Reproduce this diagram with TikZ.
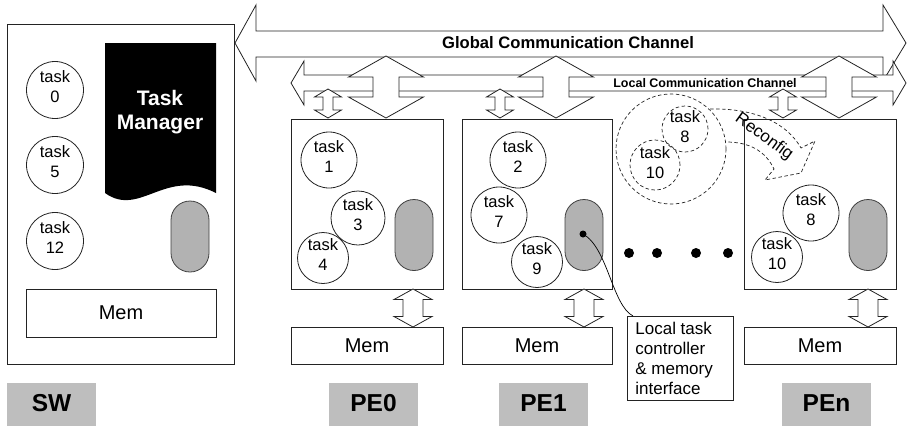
\documentclass[tikz,border=0pt]{standalone}
\usepackage{fontspec}
\setmainfont{Liberation Sans}
\usetikzlibrary{fit,calc}
\definecolor{labelgray}{RGB}{190,190,190}
\definecolor{pillgray}{RGB}{178,178,178}
\definecolor{linecol}{RGB}{35,35,35}
% vertical double block arrow: x, ytop, ybot, head half width, shaft half width, head length
\newcommand\vdarr[6]{\draw[blockarrow] (#1,#2) -- (#1+#4,#2+#6) -- (#1+#5,#2+#6) -- (#1+#5,#3-#6) -- (#1+#4,#3-#6) -- (#1,#3) -- (#1-#4,#3-#6) -- (#1-#5,#3-#6) -- (#1-#5,#2+#6) -- (#1-#4,#2+#6) -- cycle;}
% task circle: name, position, number, diameter, extra style
\newcommand\tsk[5]{\node[taskc, minimum size=#4pt, #5] (#1) at #2 {};
  \node[tasktxt] at ($(#1.center)+(0,-3)$) {task\\#3};}
\begin{document}
\begin{tikzpicture}[x=1pt,y=-1pt,
  line width=0.8pt,
  box/.style={draw=linecol, line width=0.8pt, inner sep=0pt},
  blockarrow/.style={draw=linecol, fill=white, line width=0.8pt, line join=miter},
  taskc/.style={circle, draw=linecol, fill=white, inner sep=0pt},
  tasktxt/.style={align=center, font=\fontsize{16.5}{20}\selectfont, inner sep=0pt},
  pill/.style={draw=black!75, fill=pillgray, rounded corners=19pt, minimum width=38pt, minimum height=71pt, inner sep=0pt},
  memtxt/.style={font=\fontsize{20}{24}\selectfont, inner sep=0pt},
  labbox/.style={fill=labelgray, inner sep=0pt},
  labtxt/.style={font=\bfseries\fontsize{24.5}{28}\selectfont, inner sep=0pt},
  dashedline/.style={draw=linecol, line width=0.7pt, dash pattern=on 3.5pt off 2.5pt}]
\useasboundingbox (0,0) rectangle (907,426);

% ---------- SW ----------
\node[box, fit={(7,24) (234,364)}] (sw) {};
\fill[black] (105,43) -- (216,43) -- (216,193) .. controls (165,167) and (140,218) .. (105,193) -- cycle;
\node[text=white, align=center, font=\bfseries\fontsize{21}{24}\selectfont] (tm) at (160,112) {Task\\Manager};
\tsk{t0}{(55,90)}{0}{57}{}
\tsk{t5}{(55,165)}{5}{57}{}
\tsk{t12}{(55,241)}{12}{57}{}
\node[pill] (swpill) at (190,236.5) {};
\node[box, fit={(26,289) (216,337)}] (swmem) {};
\node[memtxt] at (swmem.center) {Mem};
\node[labbox, fit={(7,383) (96,426)}] (swlab) {};
\node[labtxt] at ($(swlab.center)+(0,-1.5)$) {SW};

% ---------- channels ----------
\draw[blockarrow] (235,43) -- (256,5) -- (256,31) -- (883,31) -- (883,5) -- (906,43) -- (883,81) -- (883,57) -- (256,57) -- (256,81) -- cycle;
\draw[blockarrow] (291,83) -- (304,61) -- (304,75) -- (893,75) -- (893,61) -- (906,83) -- (893,105) -- (893,91) -- (304,91) -- (304,105) -- cycle;

% big arrows global <-> PE
\vdarr{386}{56}{118}{37.5}{13}{21}
\vdarr{556}{56}{118}{37.5}{13}{21}
\vdarr{839}{56}{118}{37.5}{13}{21}
% small arrows local <-> PE
\vdarr{328}{89}{118}{13.5}{5}{8}
\vdarr{500}{89}{118}{13.5}{5}{8}
\vdarr{783}{89}{118}{13.5}{5}{8}

\node[font=\bfseries\fontsize{16.6}{19}\selectfont] (gcc) at (568,43) {Global Communication Channel};
\node[font=\bfseries\fontsize{12.5}{15}\selectfont] (lcc) at (705,83) {Local Communication Channel};

% ---------- PE boxes ----------
\node[box, fit={(291,119) (443,289)}] (pe0) {};
\node[box, fit={(462,119) (612,289)}] (pe1) {};
\node[box, fit={(744,119) (896,289)}] (pen) {};

\tsk{t1}{(329,160)}{1}{56}{}
\tsk{t3}{(358,218)}{3}{54}{}
\tsk{t4}{(323,258)}{4}{51}{}
\node[pill] (pill0) at (414,235) {};

\tsk{t2}{(518,160)}{2}{56}{}
\tsk{t7}{(499,215)}{7}{56}{}
\tsk{t9}{(537,262)}{9}{51}{}
\node[pill] (pill1) at (584,235) {};

\tsk{t8n}{(811,213)}{8}{56}{}
\tsk{t10n}{(777,257)}{10}{51}{}
\node[pill] (pilln) at (868,235) {};

% PE <-> Mem arrows
\vdarr{413}{289}{327}{19}{10}{10.5}
\vdarr{584}{289}{327}{19}{10}{10.5}
\vdarr{868}{289}{327}{19}{10}{10.5}

\node[box, fit={(291,327) (443,364)}] (mem0) {};
\node[memtxt] at (mem0.center) {Mem};
\node[box, fit={(462,327) (612,364)}] (mem1) {};
\node[memtxt] at (mem1.center) {Mem};
\node[box, fit={(744,327) (896,364)}] (memn) {};
\node[memtxt] at (memn.center) {Mem};

\node[labbox, fit={(329,383) (418,426)}] (lab0) {};
\node[labtxt] at ($(lab0.center)+(0,-1.5)$) {PE0};
\node[labbox, fit={(499,383) (588,426)}] (lab1) {};
\node[labtxt] at ($(lab1.center)+(0,-1.5)$) {PE1};
\node[labbox, fit={(782,383) (871,426)}] (labn) {};
\node[labtxt] at ($(labn.center)+(0,-1.5)$) {PEn};

% ---------- dots ----------
\foreach \x/\n in {629/d1,657/d2,696/d3,728/d4}
  \fill (\x,253) circle (5) coordinate (\n);

% ---------- callout ----------
\node[box, fit={(627,316) (733,400)}] (callout) {};
\node[anchor=west, align=left, inner sep=0pt, font=\fontsize{17}{20}\selectfont] (calltext) at (635,358) {Local task\\controller\\\& memory\\interface};
\fill (583,234) circle (3.5) coordinate (ctrl);
\coordinate (callin) at (633,316);
\draw[line width=0.7pt] (ctrl) .. controls (608,248) and (612,305) .. (callin);

% ---------- reconfiguration ----------
\node[circle, dashedline, minimum size=110pt, inner sep=0pt] (grp) at (671,149) {};
\node[circle, dashedline, minimum size=46pt, inner sep=0pt] (g8) at (685,129) {};
\node[tasktxt] at ($(g8.center)+(0,-2)$) {task\\8};
\node[circle, dashedline, minimum size=50pt, inner sep=0pt] (g10) at (655,165) {};
\node[tasktxt] at ($(g10.center)+(0,-2)$) {task\\10};
\draw[dashedline, line join=miter] (710,109) .. controls (750,108) and (785,120) .. (801,148) -- (815,141) -- (801,173) -- (765,180) -- (774,169) .. controls (765,150) and (748,142) .. (726,142);
\node[rotate=-36, font=\fontsize{17}{20}\selectfont] (reconf) at (764,137) {Reconfig};
\end{tikzpicture}
\end{document}
